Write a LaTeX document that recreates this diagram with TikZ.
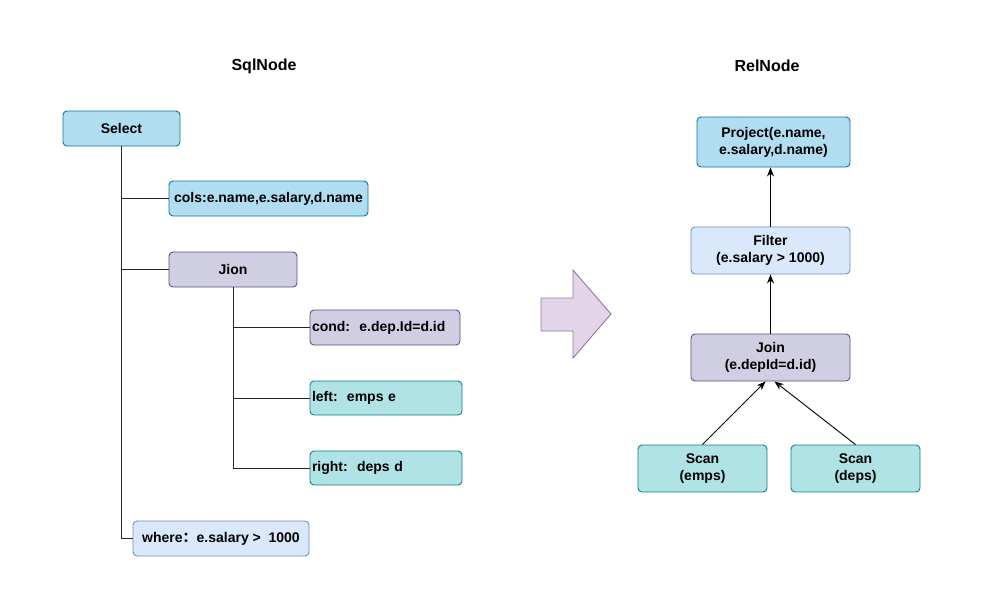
\documentclass[tikz,border=0pt]{standalone}
\usepackage{fontspec}
\setmainfont{Liberation Sans}
\newfontfamily\cjkf{Noto Sans CJK SC}
\usetikzlibrary{arrows.meta}
\definecolor{bfill}{HTML}{B1DDF0}\definecolor{bdraw}{HTML}{10739E}
\definecolor{pfill}{HTML}{D0CEE2}\definecolor{pdraw}{HTML}{56517E}
\definecolor{tfill}{HTML}{B0E3E6}\definecolor{tdraw}{HTML}{0E8088}
\definecolor{lfill}{HTML}{DAE8FC}\definecolor{ldraw}{HTML}{6C8EBF}
\definecolor{afill}{HTML}{E1D5E7}\definecolor{adraw}{HTML}{9673A6}
\begin{document}
\begin{tikzpicture}[x=1pt,y=-1pt,
  box/.style={rectangle,rounded corners=4pt,line width=0.9pt,inner sep=2pt,
    font=\fontsize{14}{17}\selectfont\bfseries,align=center},
  bluebox/.style={box,fill=bfill,draw=bdraw},
  purpbox/.style={box,fill=pfill,draw=pdraw},
  tealbox/.style={box,fill=tfill,draw=tdraw},
  ltbox/.style={box,fill=lfill,draw=ldraw},
  sz/.style 2 args={minimum width=#1pt,minimum height=#2pt},
  lefttext/.style={text width=#1pt,align=left},
  tree/.style={line width=0.9pt,draw=black!85},
  conn/.style={line width=0.9pt,-{Stealth[length=9pt,width=7pt]}},
  title/.style={font=\fontsize{16}{19}\selectfont\bfseries}]
\useasboundingbox (0,0) rectangle (1000,606);

\node[title] (t1) at (264,66) {SqlNode};
\node[title] (t2) at (767,66) {RelNode};

% left tree
\node[bluebox,sz={117}{35}] (sel) at (121.5,128.5) {Select};
\node[bluebox,sz={199}{35}] (cols) at (268.5,198.5) {cols:e.name,e.salary,d.name};
\node[purpbox,sz={128}{35}] (jion) at (233,269.5) {Jion};
\node[purpbox,sz={150}{35},lefttext=146] (cond) at (385,327.5) {cond:\ \ e.dep.Id=d.id};
\node[tealbox,sz={152}{34},lefttext=148] (left) at (386,398) {left:\ \ emps e};
\node[tealbox,sz={152}{34},lefttext=148] (right) at (386,468) {right:\ \ deps d};
\node[ltbox,sz={176}{35}] (where) at (221,538.5) {where{\cjkf ：}e.salary >\ \ 1000};

\draw[tree] (sel.south) |- (cols.west);
\draw[tree] (sel.south) |- (jion.west);
\draw[tree] (sel.south) |- (where.west);
\draw[tree] (jion.south) |- (cond.west);
\draw[tree] (jion.south) |- (left.west);
\draw[tree] (jion.south) |- (right.west);

% big arrow
\draw[fill=afill,draw=adraw,line width=0.9pt]
  (541,298) -- (573,298) -- (573,270) -- (611,314) -- (573,358) -- (573,331) -- (541,331) -- cycle;

% right tree
\node[bluebox,sz={153}{50}] (proj) at (773.5,142) {Project(e.name,\\e.salary,d.name)};
\node[ltbox,sz={159}{47}] (filt) at (770.5,250.5) {Filter\\(e.salary > 1000)};
\node[purpbox,sz={159}{47}] (join) at (770.5,357.5) {Join\\(e.depId=d.id)};
\node[tealbox,sz={129}{47}] (s1) at (702.5,468.5) {Scan\\(emps)};
\node[tealbox,sz={129}{47}] (s2) at (855.5,468.5) {Scan\\(deps)};

\draw[conn] (filt.north) -- (proj.south -| filt.north);
\draw[conn] (join.north) -- (filt.south -| join.north);
\draw[conn] (s1.north) -- ([xshift=-5pt]join.south);
\draw[conn] (s2.north) -- ([xshift=4pt]join.south);
\end{tikzpicture}
\end{document}
